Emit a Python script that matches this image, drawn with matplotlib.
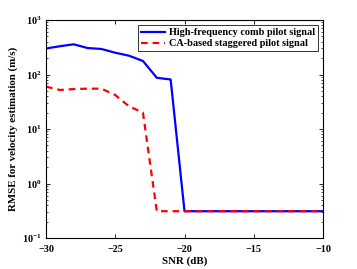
import matplotlib
matplotlib.use("Agg")
import matplotlib.pyplot as plt
from matplotlib.ticker import LogLocator, NullFormatter

plt.rcParams['font.family'] = ['Liberation Serif', 'DejaVu Serif']
plt.rcParams['font.weight'] = 'bold'
plt.rcParams['mathtext.fontset'] = 'custom'
plt.rcParams['mathtext.rm'] = 'Liberation Serif:bold'
plt.rcParams['mathtext.bf'] = 'Liberation Serif:bold'

snr = [-30, -29, -28, -27, -26, -25, -24, -23, -22, -21, -20, -19, -18, -17,
       -16, -15, -14, -13, -12, -11, -10]
comb = [300, 330, 358, 306, 294, 251, 221, 177, 87, 81, 0.31, 0.31, 0.31, 0.31,
        0.31, 0.31, 0.31, 0.31, 0.31, 0.31, 0.31]
stag = [60, 52, 54, 55, 55, 42, 26, 20, 0.31, 0.31, 0.31, 0.31, 0.31, 0.31,
        0.31, 0.31, 0.31, 0.31, 0.31, 0.31, 0.31]

fig = plt.figure(figsize=(3.57, 2.69), dpi=100)
ax = fig.add_axes([46/357, 1-238/269, 277/357, 218/269])

ax.plot(snr, comb, color='#0000ff', lw=1.6, label='High-frequency comb pilot signal')
ax.plot(snr, stag, color='#ff0000', lw=1.6, ls=(0, (3, 2.2)), label='CA-based staggered pilot signal')

ax.set_yscale('log')
ax.set_xlim(-30, -10)
ax.set_ylim(0.1, 1000)
ax.set_xticks([-30, -25, -20, -15, -10])
ax.yaxis.set_minor_locator(LogLocator(base=10, subs=range(2, 10)))
ax.yaxis.set_minor_formatter(NullFormatter())
ax.tick_params(which='both', direction='in', top=True, right=True, labelsize=7.3)
ax.tick_params(which='major', length=3, width=0.6)
ax.tick_params(axis='x', which='major', pad=5)
ax.tick_params(which='minor', length=1.6, width=0.5)
for s in ax.spines.values():
    s.set_linewidth(0.8)

ax.set_xlabel('SNR (dB)', fontsize=7.8, fontweight='bold', labelpad=2)
ax.set_ylabel('RMSE for velocity estimation (m/s)', fontsize=7.8, fontweight='bold', labelpad=3)

leg = ax.legend(loc='upper right', fontsize=7.4, frameon=True, fancybox=False,
                edgecolor='black', borderpad=0.3, handlelength=2.3,
                handletextpad=0.35, labelspacing=0.15, borderaxespad=0.5)
leg.get_frame().set_linewidth(0.7)

fig.savefig('out.png', dpi=100)
